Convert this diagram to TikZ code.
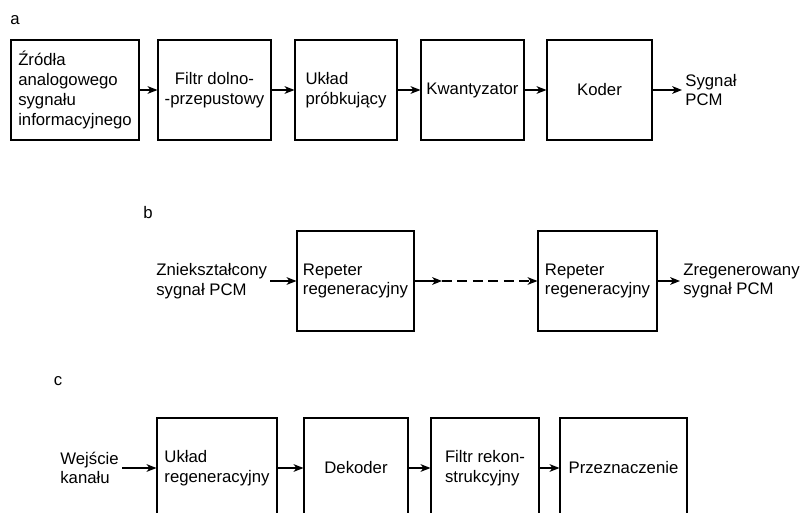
\documentclass[tikz,border=0pt]{standalone}
\usepackage{fontspec}
\setmainfont{Liberation Sans}
\usepackage{tikz}
\usetikzlibrary{arrows.meta}
\usetikzlibrary{positioning}
\tikzset{block/.style={draw,thick,rectangle,minimum height=2.5cm,align=left,inner sep=0pt},
  sig/.style={align=left,inner sep=2pt}}

\begin{document}
\begin{tikzpicture}[->,>={Stealth[length=7pt,width=5.5pt,inset=2pt]},
    x=0.025cm, y=-0.025cm,
    thick,
    font=\fontsize{11.9}{14}\selectfont]

  \path[use as bounding box,clip] (0,0) rectangle (804,513);

  % a
  \node (LabA) at (15,20) {a};
  \node[block,minimum width=3.2cm]
    (Source) at (75,90) {Źródła\\analogowego\\sygnału\\informacyjnego};
  \node[block,minimum width=2.825cm,align=center]
    (Filter) at (214.5,90) {Filtr dolno-\\-przepustowy};
  \node[block,minimum width=2.55cm]
    (Sampler) at (346,90) {Układ\\próbkujący};
  \node[block,minimum width=2.575cm]
    (Quantizer) at (472.5,90) {Kwantyzator};
  \node[block,minimum width=2.625cm]
    (Coder) at (599.5,90) {Koder};
  \node[sig,anchor=west]
    (PcmOut) at (682,90) {Sygnał\\PCM};

  \path[->]
    (Source)    edge (Filter)
    (Filter)    edge (Sampler)
    (Sampler)   edge (Quantizer)
    (Quantizer) edge (Coder)
    (Coder)     edge (PcmOut);

  % b
  \node (LabB) at (148,213) {b};
  \node[sig,anchor=west]
    (Distorted) at (153,281) {Zniekształcony\\sygnał PCM};
  \node[block,minimum width=2.925cm]
    (RepFirst) at (355.5,281) {Repeter\\regeneracyjny};
  \node[block,minimum width=2.975cm]
    (RepLast) at (597.5,281) {Repeter\\regeneracyjny};
  \node[sig,anchor=west]
    (Regenerated) at (680,281) {Zregenerowany\\sygnał PCM};
  \coordinate (Gap) at (442,281);

  \path[->]
    (Distorted) edge (RepFirst)
    (RepFirst)  edge (Gap)
    (Gap)       edge [dashed,dash pattern=on 7pt off 4pt] (RepLast)
    (RepLast)   edge (Regenerated);

  % c
  \node (LabC) at (58,381) {c};
  \node[sig,anchor=west]
    (Channel) at (57,468) {Wejście\\kanału};
  \node[block,minimum width=3.0cm]
    (Regen) at (217,468) {Układ\\regeneracyjny};
  \node[block,minimum width=2.6cm]
    (Decoder) at (356,468) {Dekoder};
  \node[block,minimum width=2.7cm]
    (Recon) at (485,468) {Filtr rekon-\\strukcyjny};
  \node[block,minimum width=3.175cm]
    (Dest) at (623.5,468) {Przeznaczenie};

  \path[->]
    (Channel) edge (Regen)
    (Regen)   edge (Decoder)
    (Decoder) edge (Recon)
    (Recon)   edge (Dest);

\end{tikzpicture}
\end{document}
